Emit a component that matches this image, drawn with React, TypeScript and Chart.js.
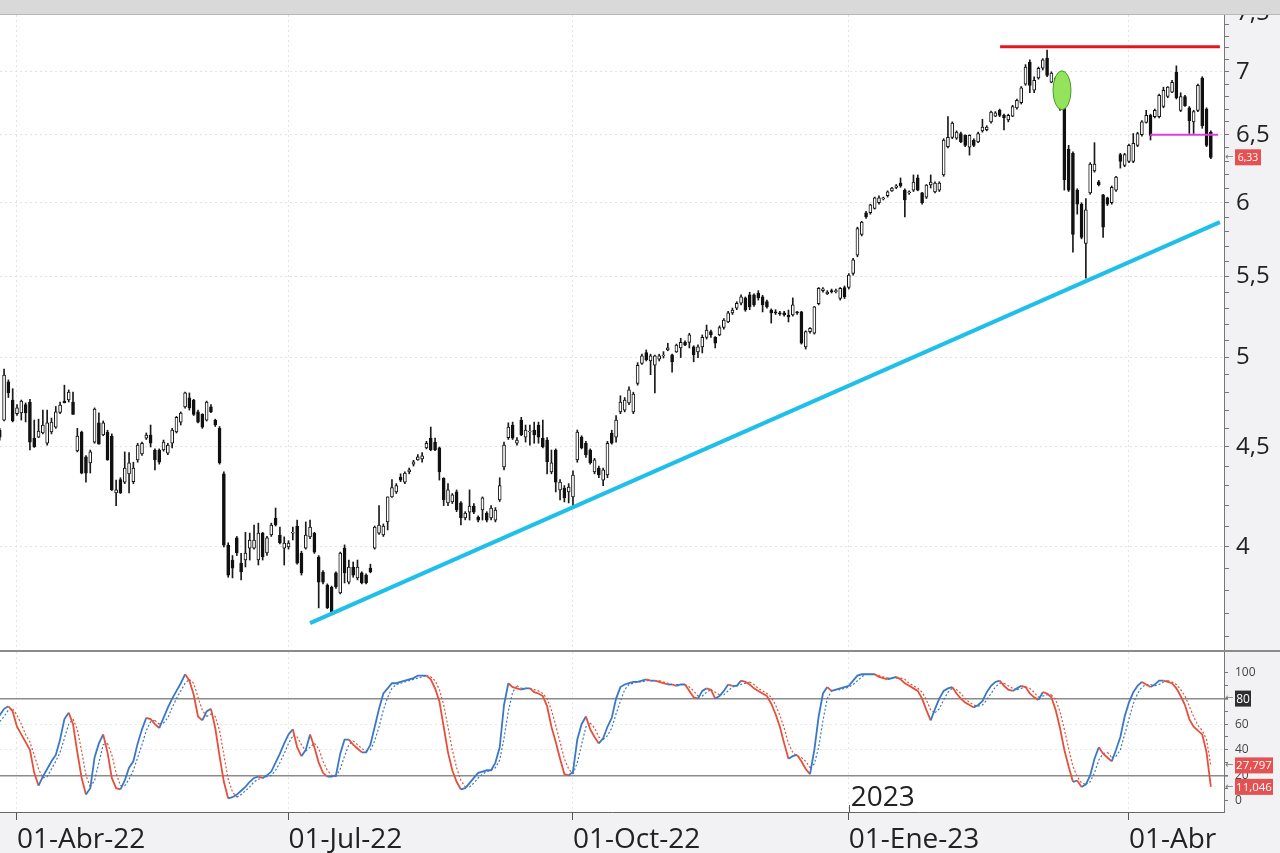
import React, { useEffect, useRef } from "react";
import { Chart, registerables } from "chart.js";

Chart.register(...registerables);

const FONT = "'Open Sans', 'DejaVu Sans', sans-serif";
const AXIS_BG = "#f2f2f5";
const BLUE = "#3b78c4";
const RED = "#e4503c";

// ---- daily candles (index 0 = last days of March 2022) ----
const opens = [
  4.591,4.645,4.859,4.756,4.68,4.684,4.73,4.745,4.547,4.553,
  4.575,4.52,4.58,4.607,4.687,4.75,4.756,4.745,4.479,4.58,
  4.448,4.417,4.526,4.63,4.564,4.58,4.558,4.263,4.33,4.318,
  4.36,4.32,4.432,4.463,4.547,4.564,4.484,4.484,4.484,4.468,
  4.52,4.58,4.634,4.718,4.768,4.756,4.69,4.676,4.645,4.718,
  4.645,4.60,4.36,4.009,3.939,4.043,3.925,3.939,3.995,3.995,
  3.939,4.066,3.972,4.057,4.139,4.057,3.995,4.0,4.066,4.10,
  3.972,3.995,4.048,4.066,3.953,3.884,3.825,3.816,3.88,3.789,
  3.995,3.838,3.907,3.857,3.88,3.87,3.902,3.995,4.066,4.057,
  4.12,4.243,4.268,4.343,4.318,4.37,4.41,4.432,4.437,4.495,
  4.547,4.526,4.495,4.338,4.213,4.218,4.268,4.213,4.139,4.168,
  4.198,4.143,4.178,4.163,4.139,4.129,4.228,4.395,4.55,4.618,
  4.52,4.645,4.553,4.58,4.591,4.618,4.547,4.537,4.37,4.484,
  4.278,4.288,4.268,4.243,4.432,4.553,4.52,4.484,4.37,4.39,
  4.328,4.354,4.575,4.553,4.69,4.70,4.74,4.69,4.85,4.965,
  5.03,4.98,4.955,4.99,5.01,5.045,5.016,5.033,5.057,5.09,
  5.09,5.063,5.033,5.063,5.12,5.155,5.12,5.135,5.18,5.215,
  5.27,5.30,5.33,5.364,5.383,5.383,5.395,5.37,5.34,5.288,
  5.276,5.27,5.27,5.257,5.257,5.276,5.276,5.063,5.155,5.145,
  5.328,5.41,5.39,5.41,5.404,5.36,5.43,5.43,5.52,5.64,
  5.78,5.93,5.93,5.96,6.0,6.027,6.05,6.084,6.11,6.14,
  6.09,6.07,6.09,6.178,6.07,6.04,6.127,6.077,6.09,6.20,
  6.41,6.48,6.475,6.51,6.496,6.406,6.46,6.445,6.53,6.54,
  6.60,6.645,6.69,6.65,6.614,6.645,6.71,6.75,6.90,7.08,
  6.85,6.95,7.03,7.115,6.915,6.89,6.85,6.72,6.39,6.36,
  6.09,5.99,5.72,6.07,6.23,6.15,6.056,6.034,6.0,6.09,
  6.35,6.27,6.30,6.30,6.42,6.50,6.595,6.65,6.64,6.64,
  6.72,6.80,6.835,6.998,6.69,6.80,6.71,6.60,6.69,6.95,
  6.70,6.52,
];
const highs = [
  4.60,4.933,4.87,4.82,4.73,4.756,4.74,4.76,4.645,4.65,
  4.70,4.70,4.656,4.72,4.745,4.84,4.813,4.80,4.60,4.585,
  4.455,4.484,4.712,4.685,4.64,4.59,4.57,4.328,4.34,4.474,
  4.47,4.42,4.52,4.526,4.575,4.618,4.49,4.49,4.537,4.52,
  4.60,4.665,4.69,4.80,4.796,4.76,4.70,4.68,4.75,4.73,
  4.65,4.61,4.37,4.02,3.96,4.05,3.97,4.07,4.066,4.105,
  4.114,4.07,4.05,4.114,4.188,4.095,4.048,4.03,4.095,4.129,
  3.98,4.12,4.129,4.07,3.96,3.89,3.83,3.82,3.885,3.976,
  4.01,3.939,3.93,3.939,3.885,3.875,3.92,4.10,4.20,4.11,
  4.243,4.33,4.31,4.36,4.37,4.39,4.43,4.46,4.47,4.53,
  4.607,4.547,4.50,4.34,4.31,4.26,4.278,4.22,4.17,4.278,
  4.21,4.15,4.243,4.17,4.20,4.19,4.34,4.526,4.63,4.634,
  4.55,4.66,4.618,4.618,4.634,4.634,4.645,4.55,4.484,4.49,
  4.33,4.30,4.31,4.375,4.591,4.56,4.53,4.49,4.44,4.40,
  4.39,4.53,4.59,4.67,4.78,4.77,4.83,4.80,4.97,5.02,
  5.045,5.02,5.015,5.02,5.035,5.085,5.02,5.08,5.115,5.10,
  5.145,5.07,5.075,5.135,5.195,5.165,5.125,5.19,5.235,5.28,
  5.30,5.34,5.383,5.37,5.40,5.39,5.41,5.38,5.35,5.295,
  5.29,5.28,5.28,5.288,5.364,5.28,5.28,5.16,5.18,5.31,
  5.43,5.43,5.41,5.42,5.42,5.43,5.44,5.52,5.62,5.83,
  5.87,5.94,5.99,6.04,6.05,6.04,6.085,6.11,6.13,6.178,
  6.10,6.085,6.20,6.20,6.075,6.13,6.20,6.15,6.15,6.47,
  6.64,6.60,6.53,6.52,6.50,6.50,6.47,6.52,6.62,6.57,
  6.685,6.68,6.70,6.66,6.66,6.73,6.78,6.88,7.06,7.10,
  6.96,7.04,7.11,7.183,7.0,6.96,6.87,6.73,6.42,6.37,
  6.10,6.0,6.03,6.29,6.44,6.16,6.06,6.04,6.12,6.19,
  6.36,6.36,6.43,6.51,6.52,6.61,6.69,6.66,6.70,6.82,
  6.875,6.88,6.93,7.05,6.83,6.81,6.72,6.69,6.90,6.96,
  6.71,6.53,
];
const lows = [
  4.537,4.64,4.77,4.635,4.67,4.645,4.635,4.484,4.498,4.55,
  4.57,4.51,4.57,4.60,4.68,4.74,4.745,4.676,4.474,4.36,
  4.318,4.364,4.52,4.515,4.56,4.43,4.275,4.20,4.26,4.31,
  4.263,4.31,4.42,4.455,4.54,4.50,4.38,4.41,4.478,4.46,
  4.495,4.575,4.618,4.71,4.70,4.67,4.63,4.60,4.64,4.685,
  4.61,4.41,4.0,3.86,3.857,3.96,3.848,3.907,3.939,3.99,
  3.916,3.939,3.96,4.05,4.10,4.015,3.916,3.99,4.033,3.92,
  3.87,3.99,4.04,3.97,3.723,3.83,3.72,3.696,3.81,3.785,
  3.834,3.83,3.86,3.848,3.83,3.83,3.88,3.99,4.06,4.05,
  4.081,4.24,4.26,4.32,4.31,4.36,4.40,4.43,4.42,4.49,
  4.48,4.48,4.328,4.20,4.20,4.21,4.17,4.105,4.13,4.129,
  4.16,4.12,4.129,4.12,4.13,4.12,4.22,4.38,4.54,4.54,
  4.51,4.56,4.526,4.51,4.52,4.52,4.495,4.36,4.36,4.268,
  4.228,4.218,4.213,4.198,4.42,4.49,4.445,4.41,4.36,4.34,
  4.30,4.34,4.515,4.526,4.68,4.69,4.73,4.68,4.84,4.96,
  4.98,4.90,4.796,4.98,4.997,5.04,4.915,5.03,5.0,5.07,
  5.057,4.975,5.0,5.027,5.11,5.12,5.057,5.13,5.17,5.21,
  5.26,5.29,5.32,5.28,5.29,5.31,5.35,5.276,5.30,5.207,
  5.26,5.255,5.25,5.214,5.25,5.26,5.08,5.05,5.145,5.14,
  5.32,5.40,5.385,5.395,5.395,5.35,5.36,5.42,5.51,5.63,
  5.77,5.89,5.92,5.955,5.99,6.02,6.04,6.08,6.10,6.11,
  5.90,6.06,6.08,6.085,5.99,6.03,6.105,6.07,6.08,6.19,
  6.40,6.47,6.465,6.44,6.41,6.346,6.41,6.44,6.52,6.53,
  6.59,6.64,6.64,6.537,6.60,6.64,6.70,6.74,6.89,6.83,
  6.83,6.94,7.015,6.96,6.91,6.88,6.69,6.09,6.08,5.66,
  5.92,5.75,5.49,6.06,6.22,6.12,5.76,5.98,5.99,6.08,
  6.25,6.26,6.29,6.29,6.41,6.49,6.59,6.46,6.63,6.63,
  6.71,6.79,6.83,6.78,6.68,6.72,6.51,6.51,6.68,6.55,
  6.41,6.32,
];
const closes = [
  4.553,4.898,4.796,4.64,4.712,4.75,4.684,4.526,4.50,4.585,
  4.618,4.63,4.634,4.69,4.728,4.74,4.80,4.676,4.558,4.364,
  4.364,4.474,4.706,4.515,4.63,4.432,4.278,4.278,4.263,4.39,
  4.417,4.39,4.51,4.52,4.564,4.52,4.432,4.42,4.526,4.51,
  4.591,4.66,4.684,4.796,4.712,4.676,4.634,4.607,4.745,4.69,
  4.618,4.417,4.009,3.87,3.902,3.972,3.884,3.972,4.033,4.033,
  4.066,3.953,4.043,4.105,4.105,4.019,4.019,4.019,4.07,3.925,
  3.88,4.057,4.095,3.976,3.838,3.838,3.723,3.705,3.816,3.972,
  3.88,3.907,3.87,3.907,3.834,3.834,3.884,4.095,4.105,4.10,
  4.243,4.29,4.30,4.328,4.364,4.38,4.422,4.448,4.453,4.52,
  4.484,4.484,4.37,4.228,4.278,4.253,4.178,4.139,4.163,4.198,
  4.168,4.129,4.238,4.129,4.188,4.178,4.30,4.51,4.607,4.547,
  4.537,4.564,4.591,4.585,4.564,4.553,4.50,4.422,4.417,4.318,
  4.318,4.238,4.293,4.354,4.58,4.495,4.458,4.417,4.432,4.354,
  4.38,4.52,4.52,4.645,4.745,4.756,4.813,4.79,4.955,5.01,
  4.986,5.01,5.01,5.01,5.015,5.057,4.975,5.074,5.09,5.074,
  5.135,5.016,5.063,5.12,5.165,5.135,5.086,5.18,5.226,5.27,
  5.288,5.33,5.37,5.288,5.307,5.32,5.364,5.32,5.307,5.27,
  5.27,5.264,5.257,5.245,5.32,5.27,5.086,5.155,5.175,5.307,
  5.425,5.422,5.40,5.404,5.41,5.425,5.37,5.51,5.61,5.82,
  5.865,5.90,5.986,6.034,6.034,6.034,6.077,6.105,6.12,6.12,
  6.02,6.077,6.148,6.09,6.0,6.127,6.148,6.14,6.14,6.46,
  6.48,6.59,6.52,6.445,6.42,6.496,6.42,6.51,6.56,6.56,
  6.677,6.67,6.65,6.63,6.65,6.72,6.77,6.87,7.04,6.89,
  6.93,7.03,7.10,6.97,6.99,6.95,6.73,6.163,6.09,5.78,
  5.99,5.76,5.95,6.28,6.28,6.13,5.83,5.99,6.11,6.185,
  6.30,6.35,6.42,6.435,6.51,6.60,6.65,6.496,6.69,6.81,
  6.85,6.875,6.915,6.79,6.80,6.727,6.61,6.68,6.89,6.57,
  6.42,6.33,
];

// ---- stochastic oscillator (%K solid, %D dotted) ----
const stochK = [
  67,72,74,70,58,52,46,40,22,12, 19,25,31,36,48,64,69,60,38,18,
  5,10,34,45,52,38,18,10,9,16, 26,31,45,56,65,64,60,57,65,73,
  80,86,92,99,94,83,66,63,70,72, 57,35,15,2,3,5,8,11,15,18,
  19,18,20,23,30,37,45,52,56,42, 35,40,52,42,30,22,19,19,20,37,
  48,48,44,41,38,38,44,58,72,84, 88,92,92,93,94,95,96,98,98,98,
  95,88,78,58,38,24,15,9,10,14, 18,22,23,24,24,30,42,75,92,89,
  88,87,88,88,85,84,82,74,58,46, 33,21,20,23,48,60,66,56,50,45,
  49,58,65,80,89,91,92,93,93,94, 95,94,94,93,92,91,91,90,91,91,
  86,81,80,86,88,87,80,82,86,91, 90,90,94,93,91,88,86,84,82,76,
  68,58,45,33,35,36,31,25,21,40, 66,84,89,86,87,88,89,90,94,98,
  99,99,99,99,97,96,95,96,97,95, 92,90,88,86,80,71,63,72,80,86,
  88,89,84,80,77,75,73,75,78,85, 90,93,94,90,87,86,88,90,89,84,
  81,79,85,84,81,71,57,40,27,15, 16,11,13,20,33,42,37,34,31,40,
  50,66,77,85,90,93,91,89,91,94, 94,93,92,88,82,75,64,58,55,52,
  38,11.046,
];
const stochD = [
  62,66,71,72,67,60,52,46,36,25, 18,19,25,31,38,49,60,64,56,39,
  20,11,16,30,44,45,36,22,12,12, 17,24,34,44,55,62,63,60,61,65,
  73,80,86,92,95,92,81,71,66,68, 66,55,36,17,7,3,5,8,11,15,
  17,18,19,20,24,30,37,45,51,50, 44,39,42,45,41,31,24,20,19,25,
  35,44,47,44,41,39,40,47,58,71, 81,88,91,92,93,94,95,96,97,98,
  97,94,87,75,58,40,26,16,11,11, 14,18,21,23,24,26,32,49,70,85,
  90,88,88,88,87,86,84,80,71,59, 46,33,25,21,30,44,58,61,57,50,
  48,51,57,68,78,87,91,92,93,93, 94,94,94,94,93,92,91,91,91,91,
  89,86,82,82,85,87,85,83,83,86, 89,90,91,92,93,91,88,86,84,81,
  75,67,57,45,38,35,34,31,26,29, 42,63,80,86,87,87,88,89,91,94,
  97,99,99,99,98,97,96,96,96,96, 95,92,90,88,85,79,71,69,72,79,
  85,88,87,84,80,77,75,74,75,79, 84,89,92,92,90,88,87,88,89,88,
  85,81,82,83,83,79,70,56,41,27, 19,14,13,15,22,32,37,38,34,35,
  40,52,64,76,84,89,91,91,90,91, 93,94,93,91,87,82,74,66,59,55,
  48,27.797,
];

// ---- axes ----
const dateTickIndex = [4, 67, 133, 197, 262];
const dateTickLabels = ["01-Abr-22", "01-Jul-22", "01-Oct-22", "01-Ene-23", "01-Abr"];
const yearLabel = "2023";
const yearIndex = 197;
const priceTicks = [
  3.6,3.7,3.8,3.9,4.0,4.1,4.2,4.3,4.4,4.5,4.6,4.7,4.8,4.9,5.0,5.1,5.2,5.3,5.4,5.5,
  5.6,5.7,5.8,5.9,6.0,6.1,6.2,6.3,6.4,6.5,6.6,6.7,6.8,6.9,7.0,7.1,7.2,7.3,7.4,7.5,
];
const priceLabelTicks = [4, 4.5, 5, 5.5, 6, 6.5, 7, 7.5];
const oscTicks = [0, 10, 20, 30, 40, 50, 60, 70, 80, 90, 100];
const oscLabelTicks = [0, 20, 40, 60, 100];
const oscLevels = [20, 80];
const oscSoftLevels = [40, 60];

// ---- drawn studies ----
const resistanceIdx = [232.1, 283.1];
const resistanceVal = [7.21, 7.21];
const trendIdx = [72.0, 283.1];
const trendVal = [3.657, 5.865];
const pivotIdx = [266.9, 282.7];
const pivotVal = [6.5, 6.5];
const markerIdx = 246.46;
const markerVal = 6.85;
const lastPrice = 6.33;
const markedLevel = 80;

const fmt = (v: number, d = 0) => v.toFixed(d).replace(".", ",");
const near = (a: number, list: number[]) => list.some((b) => Math.abs(a - b) < 1e-6);

export default function App() {
  const mainRef = useRef<HTMLCanvasElement>(null);
  const oscRef = useRef<HTMLCanvasElement>(null);

  useEffect(() => {
    const bgPlugin = {
      id: "bg",
      beforeDraw(chart: any) {
        const { ctx, chartArea: a, width, height } = chart;
        ctx.save();
        ctx.fillStyle = AXIS_BG;
        ctx.fillRect(0, 0, width, height);
        ctx.fillStyle = "#ffffff";
        ctx.fillRect(a.left, a.top, a.right - a.left, a.bottom - a.top);
        ctx.restore();
      },
    };

    const tagBox = (ctx: any, x: number, y: number, w: number, text: string, bg: string, size: number) => {
      ctx.save();
      ctx.fillStyle = "#777";
      ctx.font = `10px ${FONT}`;
      ctx.textAlign = "left";
      ctx.textBaseline = "middle";
      ctx.fillText("←", x - 10, y);
      ctx.fillStyle = bg;
      ctx.fillRect(x, y - 8, w, 16);
      ctx.fillStyle = "#ffffff";
      ctx.font = `${size}px ${FONT}`;
      ctx.textAlign = "center";
      ctx.fillText(text, x + w / 2, y + 0.5);
      ctx.restore();
    };

    const mainPlugin = {
      id: "mainExtras",
      afterDatasetsDraw(chart: any) {
        const { ctx, scales } = chart;
        const x = scales.x.getPixelForValue(markerIdx);
        const y = scales.y.getPixelForValue(markerVal);
        ctx.save();
        ctx.beginPath();
        ctx.ellipse(x, y, 9, 19.5, 0, 0, Math.PI * 2);
        ctx.fillStyle = "#93e35c";
        ctx.fill();
        ctx.lineWidth = 1;
        ctx.strokeStyle = "#4c9a2c";
        ctx.stroke();
        ctx.restore();
      },
      afterDraw(chart: any) {
        const { ctx, scales, chartArea } = chart;
        const y = scales.y.getPixelForValue(lastPrice);
        tagBox(ctx, chartArea.right + 11, y, 26, fmt(lastPrice, 2), "#e55050", 10.5);
      },
    };

    const indices = closes.map((_, i) => i);
    const bodies = indices.map((i) => ({
      x: i,
      y: [Math.min(opens[i], closes[i]), Math.max(opens[i], closes[i])],
    }));
    const wicks = indices.map((i) => ({ x: i, y: [lows[i], highs[i]] }));
    const bodyColors = indices.map((i) => (closes[i] >= opens[i] ? "#ffffff" : "#111111"));
    const pts = (xs: number[], ys: number[]) => xs.map((x, i) => ({ x, y: ys[i] }));

    const xCommon = {
      type: "linear",
      min: 0.056,
      max: 284.05,
      bounds: "data",
      offset: false,
      afterBuildTicks: (s: any) => {
        s.ticks = dateTickIndex.map((v) => ({ value: v }));
      },
    };

    const main = new Chart(mainRef.current as HTMLCanvasElement, {
      type: "bar",
      data: {
        datasets: [
          { type: "line", data: pts(resistanceIdx, resistanceVal), borderColor: "#e8141c", borderWidth: 3, pointRadius: 0, order: 0 } as any,
          { type: "line", data: pts(trendIdx, trendVal), borderColor: "#1fbfe9", borderWidth: 4, pointRadius: 0, order: 0 } as any,
          { type: "line", data: pts(pivotIdx, pivotVal), borderColor: "#e03de0", borderWidth: 2, pointRadius: 0, order: 0 } as any,
          { type: "bar", data: bodies, backgroundColor: bodyColors, borderColor: "#111111", borderWidth: 1, borderSkipped: false, barThickness: 3, grouped: false, order: 1 } as any,
          { type: "bar", data: wicks, backgroundColor: "#1a1a1a", barThickness: 1, grouped: false, order: 2 } as any,
        ],
      },
      options: {
        animation: false,
        responsive: false,
        maintainAspectRatio: false,
        events: [],
        layout: { padding: { top: 15, bottom: 1, left: 0, right: 0 }, autoPadding: false } as any,
        plugins: { legend: { display: false }, tooltip: { enabled: false } },
        scales: {
          x: {
            ...xCommon,
            afterFit: (s: any) => {
              s.height = 0;
              s.paddingLeft = 0;
              s.paddingRight = 0;
            },
            ticks: { display: false },
            grid: { color: "#e4e4e4", drawTicks: false, offset: false },
            border: { display: false, dash: [2, 3] },
          } as any,
          y: {
            type: "logarithmic",
            position: "right",
            min: 3.543,
            max: 7.485,
            bounds: "data",
            afterBuildTicks: (s: any) => {
              s.ticks = priceTicks.map((v) => ({ value: v }));
            },
            afterFit: (s: any) => {
              s.width = 56;
              s.paddingTop = 0;
              s.paddingBottom = 0;
            },
            ticks: {
              autoSkip: false,
              padding: 7,
              color: "#222222",
              font: { family: FONT, size: 24 },
              callback: (v: any) => (near(Number(v), priceLabelTicks) ? fmt(Number(v), Number(v) % 1 ? 1 : 0) : ""),
            },
            grid: {
              color: (c: any) => (c.tick && near(c.tick.value, priceLabelTicks) ? "#e2e2e2" : "rgba(0,0,0,0)"),
              tickColor: "#777777",
              tickLength: 5,
              drawTicks: true,
            },
            border: { display: true, color: "#777777", width: 1, dash: [2, 3] },
          } as any,
        },
      },
      plugins: [bgPlugin, mainPlugin],
    });

    const slopeColor = (c: any) => (c.p1.parsed.y >= c.p0.parsed.y ? BLUE : RED);

    const oscPlugin = {
      id: "oscExtras",
      afterDraw(chart: any) {
        const { ctx, scales, chartArea } = chart;
        const r = chartArea.right + 11;
        tagBox(ctx, r, scales.y.getPixelForValue(markedLevel), 16, String(markedLevel), "#2e2e2e", 12);
        tagBox(ctx, r, scales.y.getPixelForValue(stochD[stochD.length - 1]), 38, fmt(stochD[stochD.length - 1], 3), "#e55050", 11.5);
        tagBox(ctx, r, scales.y.getPixelForValue(stochK[stochK.length - 1]), 38, fmt(stochK[stochK.length - 1], 3), "#e55050", 11.5);
        const yx = scales.x.getPixelForValue(yearIndex);
        ctx.save();
        ctx.strokeStyle = "#555";
        ctx.lineWidth = 1;
        ctx.beginPath();
        ctx.moveTo(Math.round(yx) + 0.5, chartArea.bottom - 7);
        ctx.lineTo(Math.round(yx) + 0.5, chartArea.bottom);
        ctx.stroke();
        ctx.fillStyle = "#222";
        ctx.font = `28px ${FONT}`;
        ctx.textAlign = "left";
        ctx.textBaseline = "alphabetic";
        ctx.fillText(yearLabel, yx + 2, chartArea.bottom - 6);
        ctx.restore();
      },
    };

    const osc = new Chart(oscRef.current as HTMLCanvasElement, {
      type: "line",
      data: {
        datasets: [
          {
            data: stochK.map((v, i) => ({ x: i, y: v })),
            borderColor: BLUE,
            borderWidth: 1.8,
            pointRadius: 0,
            segment: { borderColor: slopeColor },
            order: 0,
          } as any,
          {
            data: stochD.map((v, i) => ({ x: i, y: v })),
            borderColor: BLUE,
            borderWidth: 1.2,
            borderDash: [2, 2],
            pointRadius: 0,
            segment: { borderColor: slopeColor },
            order: 1,
          } as any,
        ],
      },
      options: {
        animation: false,
        responsive: false,
        maintainAspectRatio: false,
        events: [],
        layout: { padding: { top: 1, bottom: 0, left: 0, right: 0 }, autoPadding: false } as any,
        plugins: { legend: { display: false }, tooltip: { enabled: false } },
        scales: {
          x: {
            ...xCommon,
            afterFit: (s: any) => {
              s.height = 41;
              s.paddingLeft = 0;
              s.paddingRight = 0;
            },
            ticks: {
              autoSkip: false,
              maxRotation: 0,
              minRotation: 0,
              align: "start",
              padding: 3,
              color: "#222222",
              font: { family: FONT, size: 28 },
              callback: (_v: any, i: number) => dateTickLabels[i],
            },
            grid: { color: "#e6e6e6", tickColor: "#555555", tickLength: 8, drawTicks: true, offset: false },
            border: { display: true, color: "#666666", width: 1, dash: [2, 3] },
          } as any,
          y: {
            type: "linear",
            position: "right",
            min: -8.6,
            max: 116.4,
            bounds: "data",
            afterBuildTicks: (s: any) => {
              s.ticks = oscTicks.map((v) => ({ value: v }));
            },
            afterFit: (s: any) => {
              s.width = 56;
              s.paddingTop = 0;
              s.paddingBottom = 0;
            },
            ticks: {
              autoSkip: false,
              padding: 7,
              color: "#444444",
              font: { family: FONT, size: 12 },
              callback: (v: any) => (oscLabelTicks.includes(Number(v)) ? String(v) : ""),
            },
            grid: {
              color: (c: any) =>
                c.tick && oscLevels.includes(c.tick.value)
                  ? "#8c8c8c"
                  : c.tick && oscSoftLevels.includes(c.tick.value)
                  ? "#e8e8e8"
                  : "rgba(0,0,0,0)",
              lineWidth: (c: any) => (c.tick && oscLevels.includes(c.tick.value) ? 1.6 : 1),
              tickColor: "#777777",
              tickLength: 4,
              drawTicks: true,
            },
            border: {
              display: true,
              color: "#777777",
              width: 1,
              dash: (c: any) => (c.tick && oscLevels.includes(c.tick.value) ? [] : [2, 3]),
            },
          } as any,
        },
      },
      plugins: [bgPlugin, oscPlugin],
    });

    return () => {
      main.destroy();
      osc.destroy();
    };
  }, []);

  return (
    <div style={{ position: "fixed", left: 0, top: 0, width: 1280, height: 853, overflow: "hidden", background: "#ffffff" }}>
      <canvas ref={mainRef} width={1280} height={651} style={{ position: "absolute", left: 0, top: 0, width: 1280, height: 651 }} />
      <canvas ref={oscRef} width={1280} height={202} style={{ position: "absolute", left: 0, top: 651, width: 1280, height: 202 }} />
      <div style={{ position: "absolute", left: 0, top: 0, width: 1280, height: 14, background: "#d9d9d9", borderBottom: "1px solid #b8b8b8" }} />
      <div style={{ position: "absolute", left: 0, top: 650, width: 1280, height: 2, background: "#8a8a8a" }} />
    </div>
  );
}
